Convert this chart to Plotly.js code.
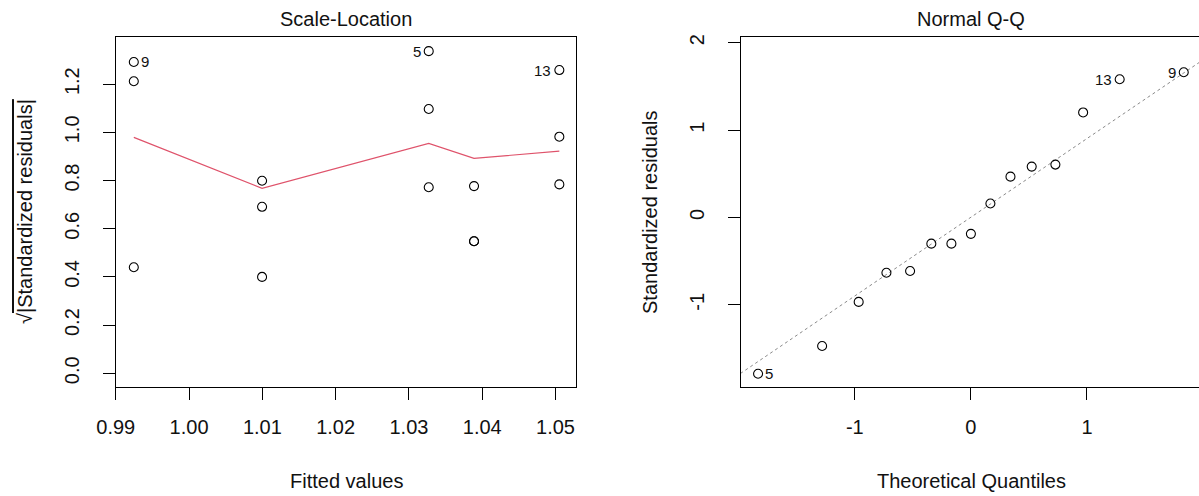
<!DOCTYPE html>
<html>
<head>
<meta charset="utf-8">
<script src="https://cdn.plot.ly/plotly-3.0.1.min.js"></script>
<style>
  html, body { margin: 0; padding: 0; background: #ffffff; overflow: hidden; }
  #chart { width: 1199px; height: 496px; }
</style>
</head>
<body>
<div id="chart"></div>
<script>
// ---- Scale-Location panel: fitted values vs sqrt(|standardized residuals|)
const fittedVals = [0.99246, 0.99246, 0.99246,
                    1.00996, 1.00996, 1.00996,
                    1.03270, 1.03270, 1.03270,
                    1.03888, 1.03888, 1.03888,
                    1.05052, 1.05052, 1.05052];
const sqrtAbsStdRes = [1.292, 1.212, 0.440,
                       0.799, 0.691, 0.400,
                       1.337, 1.097, 0.772,
                       0.777, 0.548, 0.548,
                       1.2585, 0.982, 0.784];
const slIds = ['9', '', '', '', '', '', '5', '', '', '', '', '', '13', '', ''];

// smoother through the panel
const smoothX = [0.99246, 1.00996, 1.03270, 1.03888, 1.05052];
const smoothY = [0.979, 0.768, 0.954, 0.892, 0.922];

const slXTicks = [0.99, 1.00, 1.01, 1.02, 1.03, 1.04, 1.05];
const slXTickText = ['0.99', '1.00', '1.01', '1.02', '1.03', '1.04', '1.05'];
const slYTicks = [0.0, 0.2, 0.4, 0.6, 0.8, 1.0, 1.2];
const slYTickText = ['0.0', '0.2', '0.4', '0.6', '0.8', '1.0', '1.2'];

// ---- Normal Q-Q panel
const qqTheoretical = [-1.834, -1.282, -0.967, -0.728, -0.524, -0.341, -0.168, 0,
                       0.168, 0.341, 0.524, 0.728, 0.967, 1.282, 1.834];
const qqStdRes = [-1.789, -1.471, -0.966, -0.632, -0.613, -0.299, -0.299, -0.187,
                  0.161, 0.468, 0.583, 0.606, 1.203, 1.583, 1.663];
const qqIds = ['5', '', '', '', '', '', '', '', '', '', '', '', '', '13', '9'];

// reference line through the quartiles
const qqRefX = [-2.5, 2.5];
const qqRefY = [-2.249, 2.255];

const qqXTicks = [-1, 0, 1];
const qqXTickText = ['-1', '0', '1'];
const qqYTicks = [-1, 0, 1, 2];
const qqYTickText = ['-1', '0', '1', '2'];

// ---- styling
const FONT = '"Liberation Sans", Arial, sans-serif';
const INK = '#111111';
const W = 1199, H = 496;
const px = v => v / W;          // horizontal pixel -> paper
const py = v => 1 - v / H;      // vertical pixel -> paper

const slRange = [0.98999, 1.05282];
const qqRange = [-1.981, 1.9655];

const pointMarker = { symbol: 'circle-open', size: 9, color: '#000000', line: { width: 1.1, color: '#000000' } };

const traces = [
  { type: 'scatter', mode: 'markers', x: fittedVals, y: sqrtAbsStdRes,
    xaxis: 'x', yaxis: 'y', marker: pointMarker, hoverinfo: 'x+y' },
  { type: 'scatter', mode: 'lines', x: smoothX, y: smoothY,
    xaxis: 'x', yaxis: 'y', line: { color: '#DF536B', width: 1.2 }, hoverinfo: 'skip' },
  { type: 'scatter', mode: 'lines', x: qqRefX, y: qqRefY,
    xaxis: 'x2', yaxis: 'y2', line: { color: '#8a8a8a', width: 1, dash: 'dot' }, hoverinfo: 'skip' },
  { type: 'scatter', mode: 'markers', x: qqTheoretical, y: qqStdRes,
    xaxis: 'x2', yaxis: 'y2', marker: pointMarker, hoverinfo: 'x+y' }
];

// point id labels: to the left of a point in the right half of the axis, else to the right
function idLabels(xs, ys, ids, range, xref, yref) {
  const mid = (range[0] + range[1]) / 2;
  const out = [];
  ids.forEach((id, i) => {
    if (!id) return;
    const left = xs[i] > mid;
    out.push({
      x: xs[i], y: ys[i], xref: xref, yref: yref, text: id, showarrow: false,
      xanchor: left ? 'right' : 'left', yanchor: 'middle',
      xshift: left ? -6 : 5, yshift: 0,
      font: { family: FONT, size: 15, color: INK }
    });
  });
  return out;
}

const axisCommon = {
  showgrid: false, zeroline: false, showline: true, linecolor: '#000000', linewidth: 1,
  ticks: 'outside', ticklen: 12, tickwidth: 1, tickcolor: '#000000',
  tickfont: { family: FONT, size: 20, color: INK }, fixedrange: true
};

const titleFont = { family: FONT, size: 20, color: INK };

const layout = {
  width: W, height: H,
  margin: { l: 0, r: 0, t: 0, b: 0 },
  paper_bgcolor: '#ffffff', plot_bgcolor: '#ffffff',
  showlegend: false,
  xaxis: Object.assign({}, axisCommon, {
    domain: [px(115.7), px(576.2)], range: slRange, anchor: 'y', mirror: true,
    tickmode: 'array', tickvals: slXTicks, ticktext: slXTickText, ticklabelstandoff: 10
  }),
  yaxis: Object.assign({}, axisCommon, {
    domain: [py(386.7), py(36.7)], range: [-0.0556, 1.397], anchor: 'x', mirror: true,
    tickmode: 'array', tickvals: slYTicks, ticktext: slYTickText, tickangle: -90, ticklabelstandoff: 16
  }),
  xaxis2: Object.assign({}, axisCommon, {
    domain: [px(741), 1], range: qqRange, anchor: 'y2', mirror: true,
    tickmode: 'array', tickvals: qqXTicks, ticktext: qqXTickText, ticklabelstandoff: 10
  }),
  yaxis2: Object.assign({}, axisCommon, {
    domain: [py(386.7), py(36.7)], range: [-1.937, 2.070], anchor: 'x2', mirror: false,
    tickmode: 'array', tickvals: qqYTicks, ticktext: qqYTickText, tickangle: -90, ticklabelstandoff: 16
  }),
  annotations: [
    { text: 'Scale-Location', x: px(346), y: py(19), xref: 'paper', yref: 'paper',
      showarrow: false, xanchor: 'center', yanchor: 'middle', font: titleFont },
    { text: 'Normal Q-Q', x: px(971), y: py(19), xref: 'paper', yref: 'paper',
      showarrow: false, xanchor: 'center', yanchor: 'middle', font: titleFont },
    { text: 'Fitted values', x: px(346), y: py(481), xref: 'paper', yref: 'paper',
      showarrow: false, xanchor: 'center', yanchor: 'middle', font: titleFont },
    { text: 'Theoretical Quantiles', x: px(971), y: py(481), xref: 'paper', yref: 'paper',
      showarrow: false, xanchor: 'center', yanchor: 'middle', font: titleFont },
    { text: '√<span style="text-decoration:overline">|Standardized residuals|</span>',
      x: px(25), y: py(212), xref: 'paper', yref: 'paper', textangle: -90,
      showarrow: false, xanchor: 'center', yanchor: 'middle', font: titleFont },
    { text: 'Standardized residuals', x: px(650), y: py(212), xref: 'paper', yref: 'paper', textangle: -90,
      showarrow: false, xanchor: 'center', yanchor: 'middle', font: titleFont }
  ]
    .concat(idLabels(fittedVals, sqrtAbsStdRes, slIds, slRange, 'x', 'y'))
    .concat(idLabels(qqTheoretical, qqStdRes, qqIds, qqRange, 'x2', 'y2'))
};

Plotly.newPlot('chart', traces, layout, { displayModeBar: false, staticPlot: true });
</script>
</body>
</html>
